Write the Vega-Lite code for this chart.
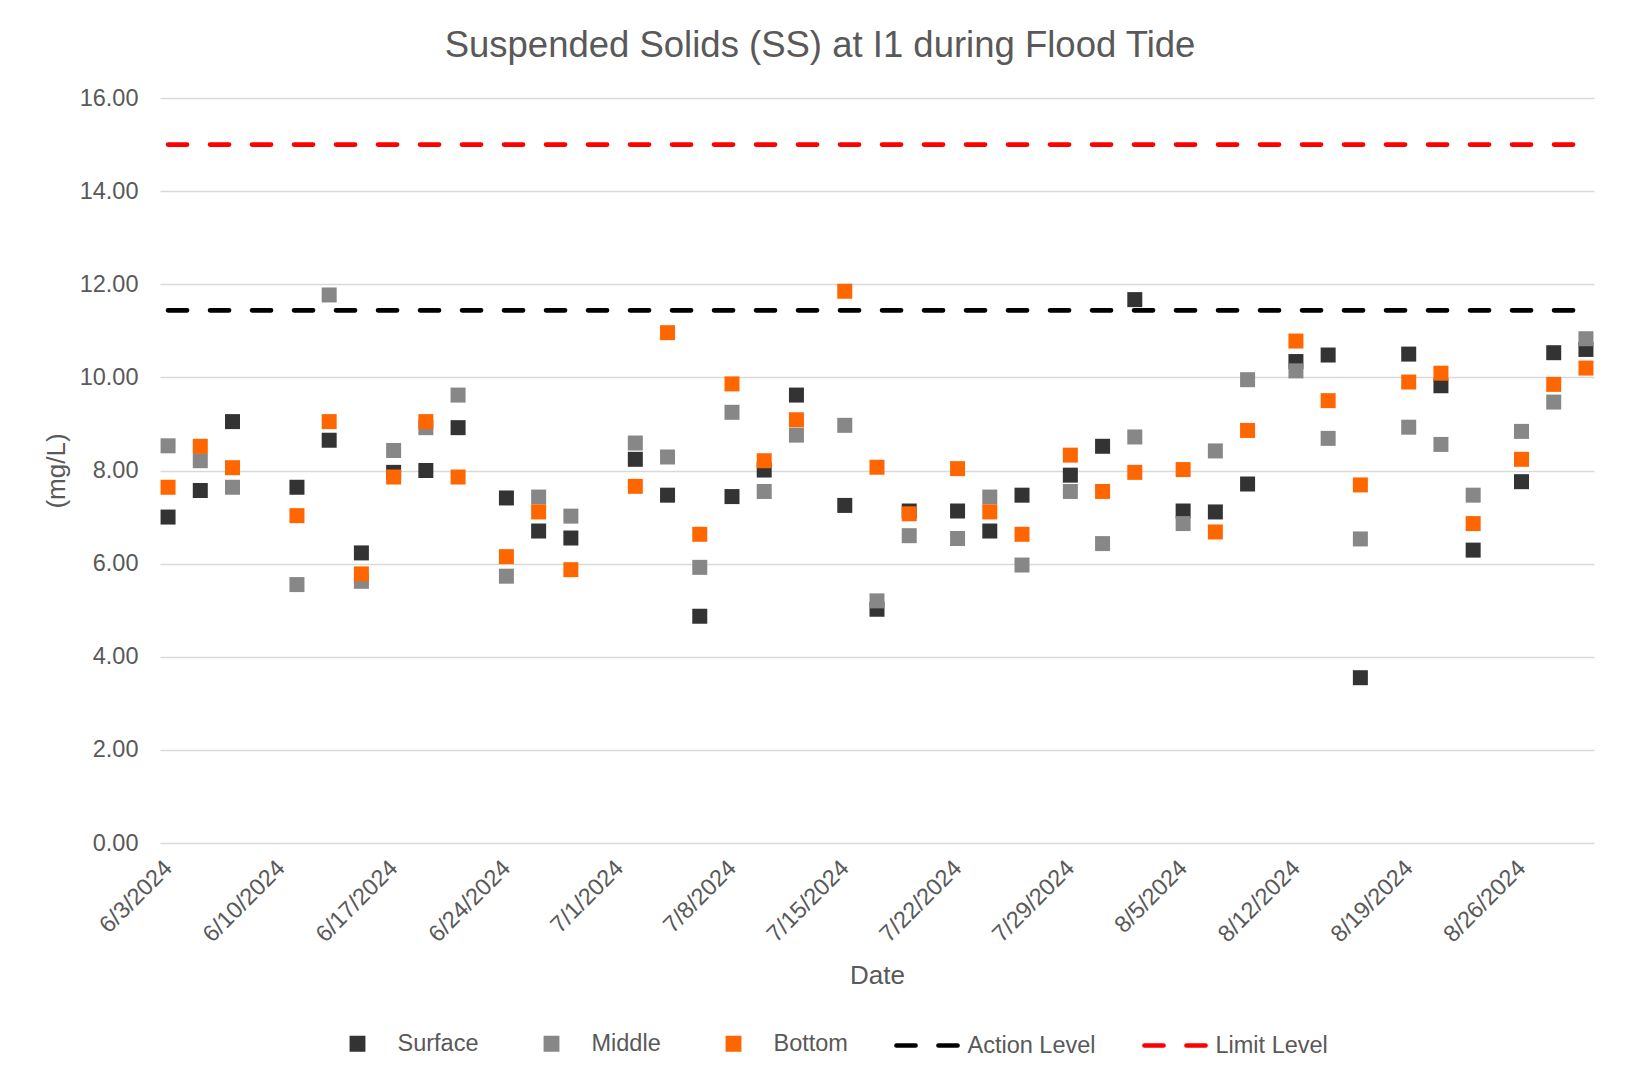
{
  "$schema": "https://vega.github.io/schema/vega-lite/v6.json",
  "autosize": {"type": "none"},
  "width": 1434,
  "height": 745,
  "padding": {"left": 160, "top": 98, "right": 36, "bottom": 236},
  "background": "white",
  "config": {"font": "Liberation Sans", "view": {"stroke": null}},
  "title": {
    "text": "Suspended Solids (SS) at I1 during Flood Tide",
    "fontSize": 36.5,
    "fontWeight": "normal",
    "color": "#595959",
    "anchor": "middle",
    "frame": "group",
    "dx": -57,
    "offset": 21.5
  },
  "datasets": {
    "readings": [
      {"date": "2024/06/03", "Surface": 7.00, "Middle": 8.53, "Bottom": 7.64},
      {"date": "2024/06/05", "Surface": 7.57, "Middle": 8.21, "Bottom": 8.52},
      {"date": "2024/06/07", "Surface": 9.05, "Middle": 7.64, "Bottom": 8.06},
      {"date": "2024/06/11", "Surface": 7.64, "Middle": 5.55, "Bottom": 7.03},
      {"date": "2024/06/13", "Surface": 8.65, "Middle": 11.77, "Bottom": 9.05},
      {"date": "2024/06/15", "Surface": 6.23, "Middle": 5.62, "Bottom": 5.78},
      {"date": "2024/06/17", "Surface": 7.96, "Middle": 8.43, "Bottom": 7.86},
      {"date": "2024/06/19", "Surface": 8.00, "Middle": 8.92, "Bottom": 9.05},
      {"date": "2024/06/21", "Surface": 8.92, "Middle": 9.62, "Bottom": 7.86},
      {"date": "2024/06/24", "Surface": 7.41, "Middle": 5.73, "Bottom": 6.15},
      {"date": "2024/06/26", "Surface": 6.70, "Middle": 7.43, "Bottom": 7.11},
      {"date": "2024/06/28", "Surface": 6.55, "Middle": 7.02, "Bottom": 5.87},
      {"date": "2024/07/02", "Surface": 8.24, "Middle": 8.59, "Bottom": 7.66},
      {"date": "2024/07/04", "Surface": 7.47, "Middle": 8.29, "Bottom": 10.96},
      {"date": "2024/07/06", "Surface": 4.87, "Middle": 5.92, "Bottom": 6.63},
      {"date": "2024/07/08", "Surface": 7.44, "Middle": 9.25, "Bottom": 9.86},
      {"date": "2024/07/10", "Surface": 8.01, "Middle": 7.55, "Bottom": 8.21},
      {"date": "2024/07/12", "Surface": 9.62, "Middle": 8.76, "Bottom": 9.09},
      {"date": "2024/07/15", "Surface": 7.25, "Middle": 8.97, "Bottom": 11.85},
      {"date": "2024/07/17", "Surface": 5.02, "Middle": 5.20, "Bottom": 8.07},
      {"date": "2024/07/19", "Surface": 7.13, "Middle": 6.60, "Bottom": 7.07},
      {"date": "2024/07/22", "Surface": 7.13, "Middle": 6.54, "Bottom": 8.04},
      {"date": "2024/07/24", "Surface": 6.70, "Middle": 7.43, "Bottom": 7.11},
      {"date": "2024/07/26", "Surface": 7.47, "Middle": 5.97, "Bottom": 6.63},
      {"date": "2024/07/29", "Surface": 7.90, "Middle": 7.55, "Bottom": 8.33},
      {"date": "2024/07/31", "Surface": 8.52, "Middle": 6.43, "Bottom": 7.55},
      {"date": "2024/08/02", "Surface": 11.67, "Middle": 8.72, "Bottom": 7.96},
      {"date": "2024/08/05", "Surface": 7.13, "Middle": 6.86, "Bottom": 8.02},
      {"date": "2024/08/07", "Surface": 7.11, "Middle": 8.42, "Bottom": 6.68},
      {"date": "2024/08/09", "Surface": 7.71, "Middle": 9.95, "Bottom": 8.86},
      {"date": "2024/08/12", "Surface": 10.34, "Middle": 10.14, "Bottom": 10.78},
      {"date": "2024/08/14", "Surface": 10.48, "Middle": 8.69, "Bottom": 9.50},
      {"date": "2024/08/16", "Surface": 3.55, "Middle": 6.53, "Bottom": 7.69},
      {"date": "2024/08/19", "Surface": 10.50, "Middle": 8.93, "Bottom": 9.90},
      {"date": "2024/08/21", "Surface": 9.82, "Middle": 8.56, "Bottom": 10.09},
      {"date": "2024/08/23", "Surface": 6.29, "Middle": 7.47, "Bottom": 6.86},
      {"date": "2024/08/26", "Surface": 7.76, "Middle": 8.84, "Bottom": 8.24},
      {"date": "2024/08/28", "Surface": 10.53, "Middle": 9.47, "Bottom": 9.85},
      {"date": "2024/08/30", "Surface": 10.60, "Middle": 10.83, "Bottom": 10.20}
    ],
    "levels": [
      {"date": "2024/06/03", "series": "Action Level", "value": 11.44},
      {"date": "2024/08/30", "series": "Action Level", "value": 11.44},
      {"date": "2024/06/03", "series": "Limit Level", "value": 15},
      {"date": "2024/08/30", "series": "Limit Level", "value": 15}
    ]
  },
  "encoding": {
    "x": {
      "field": "date",
      "type": "temporal",
      "scale": {
        "domain": [
          {"year": 2024, "month": 6, "date": 2, "hours": 12},
          {"year": 2024, "month": 8, "date": 30, "hours": 12}
        ]
      },
      "axis": {
        "values": [
          {"year": 2024, "month": 6, "date": 3},
          {"year": 2024, "month": 6, "date": 10},
          {"year": 2024, "month": 6, "date": 17},
          {"year": 2024, "month": 6, "date": 24},
          {"year": 2024, "month": 7, "date": 1},
          {"year": 2024, "month": 7, "date": 8},
          {"year": 2024, "month": 7, "date": 15},
          {"year": 2024, "month": 7, "date": 22},
          {"year": 2024, "month": 7, "date": 29},
          {"year": 2024, "month": 8, "date": 5},
          {"year": 2024, "month": 8, "date": 12},
          {"year": 2024, "month": 8, "date": 19},
          {"year": 2024, "month": 8, "date": 26}
        ],
        "format": "%-m/%-d/%Y",
        "labelAngle": -45,
        "labelAlign": "right",
        "labelBaseline": "middle",
        "labelPadding": 21,
        "labelFontSize": 23.5,
        "labelColor": "#595959",
        "labelOverlap": false,
        "labelFlush": false,
        "grid": false,
        "domain": false,
        "ticks": false,
        "title": "Date",
        "titleFontSize": 26,
        "titleFontWeight": "normal",
        "titleColor": "#595959",
        "titlePadding": 16
      }
    },
    "y": {
      "field": "value",
      "type": "quantitative",
      "scale": {"domain": [0, 16], "nice": false, "zero": true},
      "axis": {
        "values": [0, 2, 4, 6, 8, 10, 12, 14, 16],
        "format": ".2f",
        "labelFontSize": 23.5,
        "labelColor": "#595959",
        "labelPadding": 22,
        "grid": true,
        "gridColor": "#d9d9d9",
        "gridWidth": 1.6,
        "domain": false,
        "ticks": false,
        "title": "(mg/L)",
        "titleFontSize": 26,
        "titleFontWeight": "normal",
        "titleColor": "#595959",
        "titlePadding": 10
      }
    },
    "color": {
      "field": "series",
      "type": "nominal",
      "scale": {
        "domain": ["Surface", "Middle", "Bottom", "Action Level", "Limit Level"],
        "range": ["#333333", "#878787", "#FF6600", "#000000", "#FF0000"]
      },
      "legend": {
        "orient": "none",
        "legendX": 164,
        "legendY": 912,
        "direction": "horizontal",
        "title": null,
        "padding": 0,
        "symbolSize": 3844,
        "symbolStrokeWidth": 4.7,
        "symbolDash": [19, 23],
        "labelFontSize": 23.5,
        "labelColor": "#595959",
        "labelOffset": 6.5,
        "columnPadding": 39,
        "encode": {
          "symbols": {
            "update": {
              "shape": {"signal": "indexof(['Action Level','Limit Level'], datum.value) >= 0 ? 'stroke' : 'M-0.18,-0.18H0.18V0.18H-0.18Z'"},
              "fill": {"signal": "indexof(['Action Level','Limit Level'], datum.value) >= 0 ? 'transparent' : scale('color', datum.value)"},
              "stroke": {"signal": "scale('color', datum.value)"},
              "strokeDash": {"signal": "indexof(['Action Level','Limit Level'], datum.value) >= 0 ? [19, 23] : []"},
              "strokeCap": {"signal": "indexof(['Action Level','Limit Level'], datum.value) >= 0 ? 'round' : 'butt'"},
              "strokeJoin": {"value": "miter"},
              "opacity": {"value": 1}
            }
          }
        }
      }
    }
  },
  "layer": [
    {
      "data": {"name": "readings"},
      "transform": [
        {"fold": ["Surface", "Middle", "Bottom"], "as": ["series", "value"]}
      ],
      "mark": {"type": "point", "shape": "square", "filled": true, "size": 225, "opacity": 1, "strokeWidth": 0}
    },
    {
      "data": {"name": "levels"},
      "mark": {"type": "line", "strokeWidth": 4.7, "strokeDash": [19, 23], "strokeCap": "round"}
    }
  ]
}
